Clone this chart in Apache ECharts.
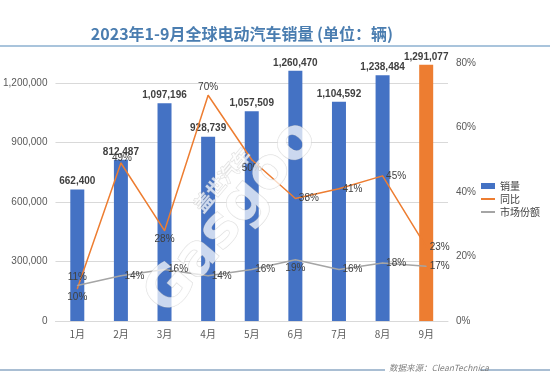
<!DOCTYPE html>
<html><head><meta charset="utf-8">
<script src="https://cdn.jsdelivr.net/npm/echarts@6/dist/echarts.min.js"></script>
<style>html,body{margin:0;padding:0;background:#fff}#c{width:550px;height:378px}</style>
</head><body><div id="c"></div>
<script>
const categories = ['1月','2月','3月','4月','5月','6月','7月','8月','9月'];
const sales = [662400, 812487, 1097196, 928739, 1057509, 1260470, 1104592, 1238484, 1291077];
const yoy = [10, 49, 28, 70, 50, 38, 41, 45, 23];
const share = [11, 14, 16, 14, 16, 19, 16, 18, 17];
const yoyLabelPos = ['bottom','top','bottom','top','bottom','right','right','right','right'];
const shareLabelPos = ['top','right','right','right','right','bottom','right','right','right'];

const chart = echarts.init(document.getElementById('c'), null, {renderer:'canvas'});
const fmt = v => v.toLocaleString('en-US');
const lblFont = {fontFamily:'Liberation Sans', fontSize:10, color:'#404040', fontWeight:600};
const rot = 50 * Math.PI / 180;
chart.setOption({
  animation:false,
  textStyle:{fontFamily:'Noto Sans CJK SC'},
  title:{text:'2023年1-9月全球电动汽车销量 (单位：辆)', left:237, textAlign:'center', top:21,
    textStyle:{fontSize:16, fontWeight:'bold', color:'#4A7DB0', fontFamily:'Noto Sans CJK SC'}},
  graphic:[
    {type:'line', shape:{x1:0,y1:46,x2:550,y2:46}, style:{stroke:'#8DB0D0', lineWidth:1.5}},
    {type:'line', shape:{x1:0,y1:370,x2:385,y2:370}, style:{stroke:'#8DA9C4', lineWidth:1.5}},
    {type:'line', shape:{x1:480,y1:370,x2:550,y2:370}, style:{stroke:'#8DA9C4', lineWidth:1.5}},
    {type:'text', left:389, top:364, style:{text:'数据来源：CleanTechnica', fill:'#7F7F7F', fontSize:8.5, fontStyle:'italic', fontFamily:'Noto Sans CJK SC'}},
    {type:'text', x:232, y:218, rotation:rot, z:100,
     style:{text:'Gasgoo', fontSize:56, fontWeight:'bold', fontFamily:'DejaVu Sans', align:'center', verticalAlign:'middle',
            fill:'rgba(255,255,255,0.72)', stroke:'rgba(180,180,180,0.45)', lineWidth:1}},
    {type:'text', x:222, y:180, rotation:rot, z:100,
     style:{text:'盖世汽车', fontSize:19, fontWeight:'bold', fontFamily:'Noto Sans CJK SC', align:'center', verticalAlign:'middle',
            fill:'rgba(255,255,255,0.72)', stroke:'rgba(180,180,180,0.45)', lineWidth:1}}
  ],
  legend:{orient:'vertical', left:476, top:176, itemWidth:14, itemHeight:6, itemGap:3, symbolKeepAspect:true,
    textStyle:{fontSize:10, color:'#404040'},
    data:[{name:'销量', icon:'rect'},
          {name:'同比', icon:'path://M0,0L14,0L14,2L0,2Z'},
          {name:'市场份额', icon:'path://M0,0L14,0L14,2L0,2Z'}]},
  grid:{left:48, right:102, top:63, bottom:57},
  xAxis:{type:'category', data:categories, axisTick:{show:false},
    axisLine:{lineStyle:{color:'#D9D9D9'}}, axisLabel:{color:'#595959', fontSize:10}},
  yAxis:[
    {type:'value', min:0, max:1300000, interval:300000,
     axisLabel:{color:'#595959', fontSize:10, fontFamily:'Liberation Sans', showMaxLabel:false, formatter:v=>fmt(v)},
     splitLine:{lineStyle:{color:'#D9D9D9'}, showMaxLine:false}, axisLine:{show:false}, axisTick:{show:false}},
    {type:'value', min:0, max:80, interval:20,
     axisLabel:{color:'#595959', fontSize:10, fontFamily:'Liberation Sans', formatter:'{value}%'},
     splitLine:{show:false}, axisLine:{show:false}, axisTick:{show:false}}
  ],
  series:[
    {name:'销量', type:'bar', barWidth:14, itemStyle:{color:'#4472C4'},
     data:sales.map((v,i)=> i===8 ? {value:v, itemStyle:{color:'#ED7D31'}} : v),
     label:{show:true, position:'top', distance:3, formatter:p=>fmt(p.value), ...lblFont}},
    {name:'同比', type:'line', yAxisIndex:1, symbol:'circle', symbolSize:1, itemStyle:{color:'#ED7D31'},
     lineStyle:{color:'#ED7D31', width:1.5},
     data:yoy.map((v,i)=>({value:v, label:{position:yoyLabelPos[i], offset: i===1 ? [1,4] : [0,0]}})),
     label:{show:true, formatter:'{c}%', distance:3, fontFamily:'Liberation Sans', fontSize:10, color:'#404040'}},
    {name:'市场份额', type:'line', yAxisIndex:1, symbol:'circle', symbolSize:1, itemStyle:{color:'#A5A5A5'},
     lineStyle:{color:'#A5A5A5', width:1.5},
     data:share.map((v,i)=>({value:v, label:{position:shareLabelPos[i]}})),
     label:{show:true, formatter:'{c}%', distance:3, fontFamily:'Liberation Sans', fontSize:10, color:'#404040'}}
  ]
});
</script></body></html>
